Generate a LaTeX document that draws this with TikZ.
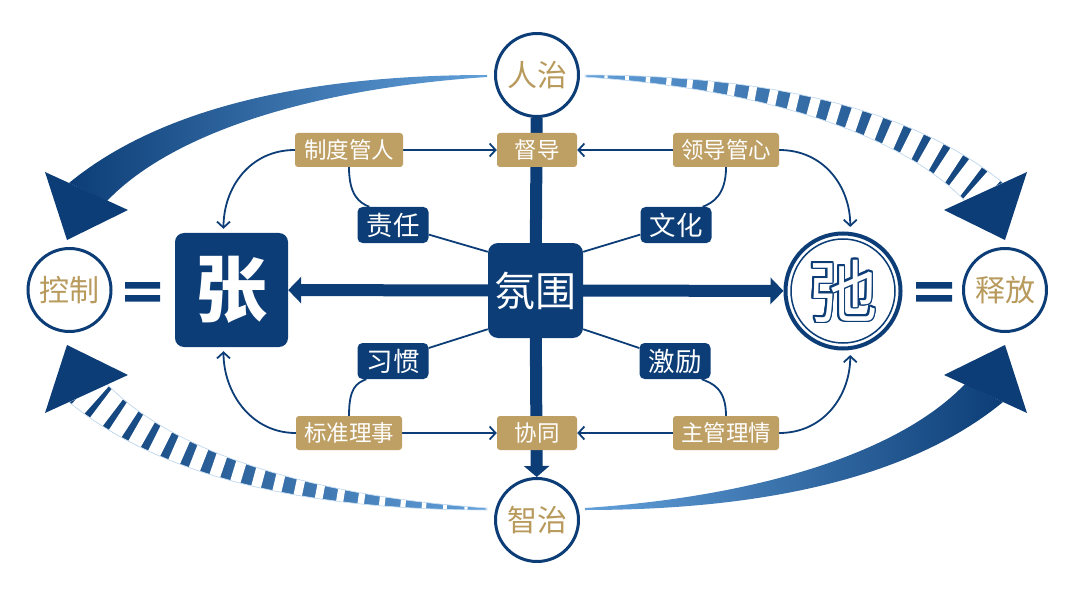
\documentclass[tikz,border=0pt]{standalone}
\usepackage{fontspec}
\setmainfont{Noto Sans CJK SC}
\usetikzlibrary{arrows.meta, decorations.markings, backgrounds}
\definecolor{navy}{HTML}{0C3D76}
\definecolor{gold}{HTML}{BE9F64}
\definecolor{goldtext}{HTML}{B89A5C}
\definecolor{skyblue}{HTML}{62A0DA}

% sweep arrow of the top left corner, around the centre of the picture
\newcommand{\sweepshaft}{(-49,-217.5) .. controls (-206,-217.5) and (-366,-192.5) .. (-467,-109.5) -- (-429,-91.5) .. controls (-361,-162.5) and (-216,-204.5) .. (-49,-215.5) -- cycle}
\newcommand{\sweephead}{(-491,-120.5) -- (-469,-52.5) -- (-408,-82.5) -- cycle}
\newcommand{\sweepmid}{(-49,-216.5) .. controls (-211,-211) and (-363.5,-177.5) .. (-448,-100.5)}

\begin{document}
\begin{tikzpicture}[x=1pt, y=-1pt,
    ring/.style={circle, draw=navy, line width=3pt, fill=white, minimum size=83pt, inner sep=0pt, text=goldtext, font=\fontsize{30}{30}\selectfont},
    goldbox/.style={rectangle, rounded corners=3pt, fill=gold, text=white, minimum height=34pt, inner sep=0pt, font=\fontsize{22.5}{22.5}\selectfont},
    navybox/.style={rectangle, rounded corners=5pt, fill=navy, text=white, minimum width=71pt, minimum height=36pt, inner sep=0pt, font=\fontsize{26.5}{26.5}\selectfont},
    bar/.style={navy, line width=12pt},
    link/.style={navy, line width=1.8pt},
    linkarrow/.style={link, -{Straight Barb[length=6pt, width=13pt]}},
    stripes/.style={decorate, decoration={markings, mark=between positions 0 and 1 step 21pt with {
        \pgfmathsetmacro{\gaphalf}{1.2+6.8*\pgfkeysvalueof{/pgf/decoration/mark info/distance from start}/\pgfdecoratedpathlength}
        \fill[white] (-\gaphalf pt,-40pt) rectangle (\gaphalf pt,40pt);}}}]
    \useasboundingbox (0,0) rectangle (1080,591);

    % circles
    \node[ring] (renzhi) at (537,75) {人治};
    \node[ring] (zhizhi) at (537,520) {智治};
    \node[ring] (kongzhi) at (69.5,290) {控制};
    \node[ring] (shifang) at (1005,290) {释放};

    % main blocks
    \node[rectangle, rounded corners=9pt, fill=navy, minimum width=113pt, minimum height=114pt, inner sep=0pt, text=white, font=\bfseries\fontsize{72}{72}\selectfont] (zhang) at (231.5,290) {张};
    \node[rectangle, rounded corners=10pt, fill=navy, minimum size=95pt, inner sep=0pt, text=white, font=\fontsize{41}{41}\selectfont] (fenwei) at (535.5,290.5) {氛围};
    \node[circle, draw=navy, line width=4pt, fill=white, minimum size=115pt, inner sep=0pt] (chi) at (843,291) {};
    \draw[navy, line width=1.5pt] (chi.center) circle (52);
    \foreach \a in {0,22.5,...,337.5}
        \node[text=navy, font=\fontsize{68}{68}\selectfont] at ([shift={(\a:1.8)}]chi.center) {弛};
    \node[text=white, font=\fontsize{68}{68}\selectfont] (chitext) at (chi.center) {弛};

    % gold labels
    \node[goldbox, minimum width=80pt] (dudao) at (537,150) {督导};
    \node[goldbox, minimum width=80pt] (xietong) at (537,433) {协同};
    \node[goldbox, minimum width=108pt] (zhidu) at (349,150) {制度管人};
    \node[goldbox, minimum width=106pt] (lingdao) at (726,150) {领导管心};
    \node[goldbox, minimum width=106pt] (biaozhun) at (349,433) {标准理事};
    \node[goldbox, minimum width=106pt] (zhuguan) at (726,433) {主管理情};

    % navy labels
    \node[navybox] (zeren) at (393,225) {责任};
    \node[navybox] (wenhua) at (676,225) {文化};
    \node[navybox] (xiguan) at (393,361) {习惯};
    \node[navybox] (jili) at (675,361) {激励};

    % equal signs
    \fill[navy] (125,282) rectangle (160,288.5) (125,295) rectangle (160,301.5);
    \fill[navy] (916,282) rectangle (952,288.5) (916,295) rectangle (952,301.5);

    \begin{scope}[on background layer]
        % cross of bars
        \draw[bar] (renzhi) -- (fenwei);
        \draw[bar, -{Triangle[length=11pt, width=25pt]}] (fenwei) -- (zhizhi);
        \draw[bar, -{Triangle[length=13pt, width=26pt]}] (fenwei) -- (zhang);
        \draw[bar, -{Triangle[length=13pt, width=26pt]}] (fenwei) -- (chi);

        % links
        \draw[linkarrow] (zhidu) -- (dudao);
        \draw[linkarrow] (lingdao) -- (dudao);
        \draw[linkarrow] (biaozhun) -- (xietong);
        \draw[linkarrow] (zhuguan) -- (xietong);
        \draw[linkarrow, shorten >=4pt] (zhidu.west) .. controls +(-45,0) and +(0,-45) .. ([xshift=-8pt]zhang.north);
        \draw[linkarrow, shorten >=4pt] (biaozhun.west) .. controls +(-45,0) and +(0,45) .. ([xshift=-8pt]zhang.south);
        \draw[linkarrow, shorten >=5pt] (lingdao.east) .. controls +(45,0) and +(0,-45) .. (chi.83);
        \draw[linkarrow, shorten >=5pt] (zhuguan.east) .. controls +(45,0) and +(0,45) .. (chi.-83);
        \draw[link] (zhidu.south) .. controls +(0,28) and +(-10,-4) .. ([xshift=12pt]zeren.north west);
        \draw[link] (lingdao.south) .. controls +(0,28) and +(10,-4) .. ([xshift=-9pt]wenhua.north east);
        \draw[link] (biaozhun.north) .. controls +(0,-28) and +(-10,4) .. ([xshift=9pt]xiguan.south west);
        \draw[link] (zhuguan.north) .. controls +(0,-28) and +(10,4) .. ([xshift=-9pt]jili.south east);
        \draw[link] (zeren.-15) -- ([yshift=-9pt]fenwei.north west);
        \draw[link] (wenhua.195) -- ([yshift=-9pt]fenwei.north east);
        \draw[link] (xiguan.20) -- ([yshift=9pt]fenwei.south west);
        \draw[link] (jili.160) -- ([yshift=9pt]fenwei.south east);

        % sweeping arrows round the outside
        \begin{scope}[shift={(536,292.5)}]
            \shade[left color=navy, right color=skyblue] \sweepshaft;
            \fill[navy] \sweephead;
            \begin{scope}[xscale=-1, yscale=-1]
                \shade[left color=skyblue, right color=navy] \sweepshaft;
                \fill[navy] \sweephead;
            \end{scope}
            \foreach \sx/\sy/\lc/\rc in {-1/1/skyblue/navy, 1/-1/navy/skyblue} {
                \begin{scope}[xscale=\sx, yscale=\sy]
                    \begin{scope}
                        \clip \sweepshaft;
                        \shade[left color=\lc, right color=\rc] \sweepshaft;
                        \path[stripes] \sweepmid;
                    \end{scope}
                    \draw[skyblue!35, line width=0.7pt] \sweepshaft;
                    \fill[navy] \sweephead;
                \end{scope}
            }
        \end{scope}
    \end{scope}
\end{tikzpicture}
\end{document}
